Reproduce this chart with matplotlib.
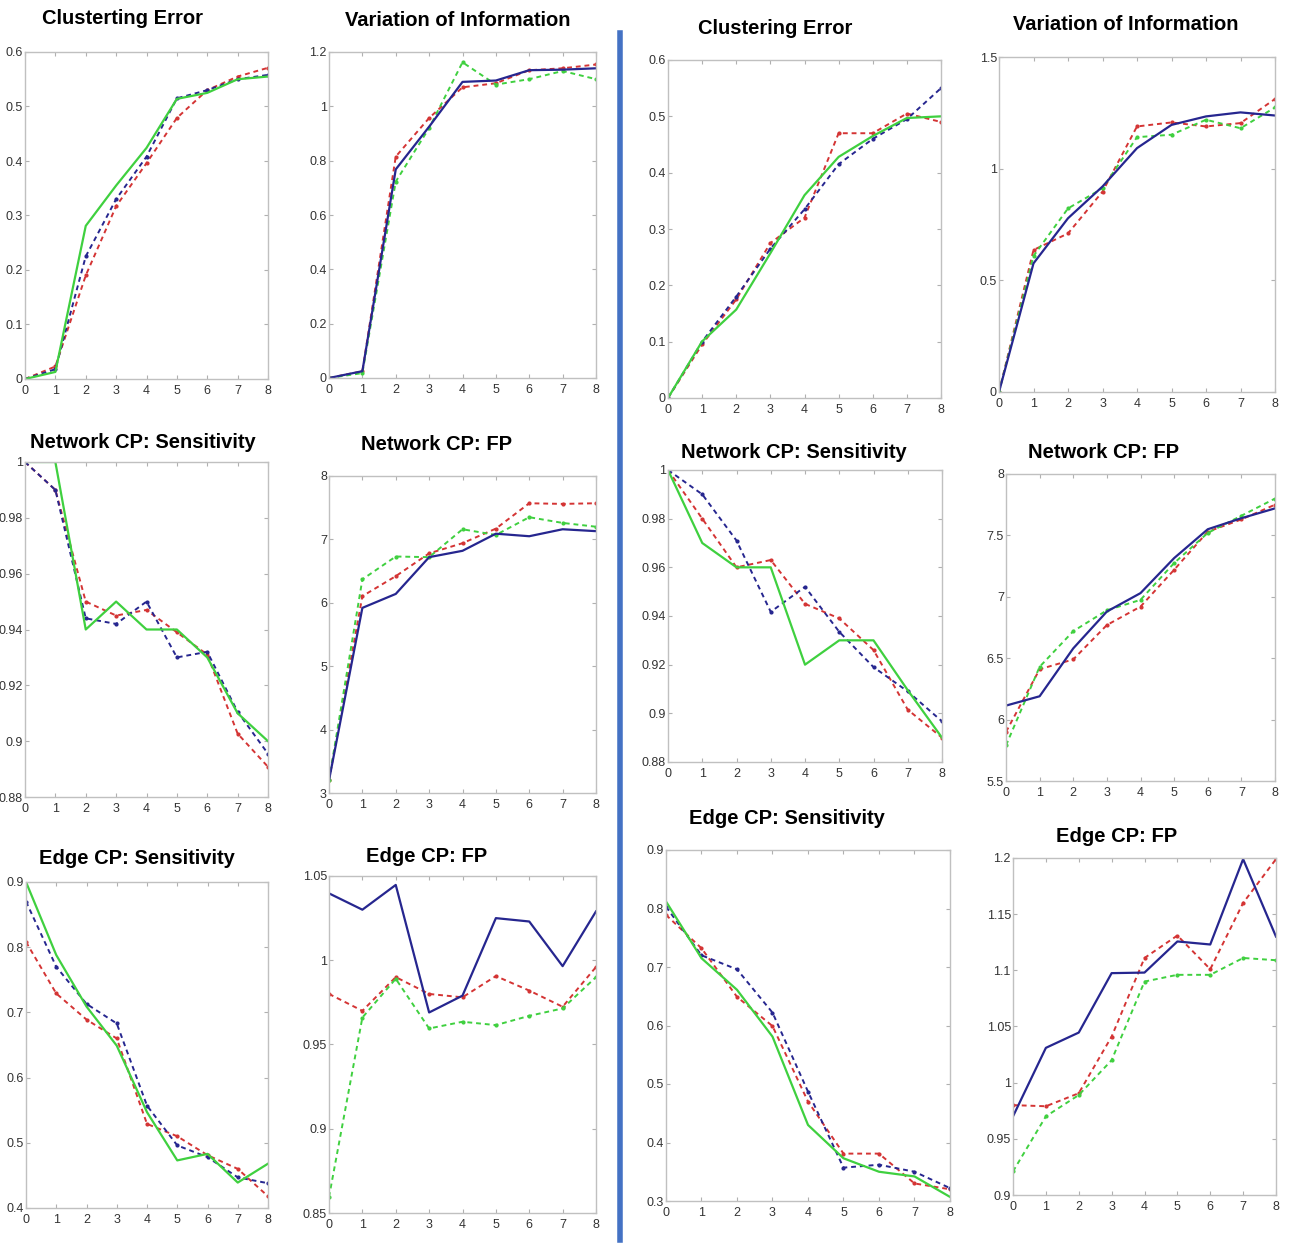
import matplotlib
matplotlib.use('Agg')
import matplotlib.pyplot as plt
from matplotlib.lines import Line2D
from matplotlib.ticker import FuncFormatter

plt.rcParams['font.family'] = ['Liberation Sans', 'DejaVu Sans']

x = list(range(9))

# left group
ce_l_green = [0, 0.013, 0.281, 0.355, 0.424, 0.514, 0.525, 0.55, 0.555]
ce_l_blue = [0, 0.018, 0.225, 0.33, 0.408, 0.515, 0.53, 0.55, 0.558]
ce_l_red = [0, 0.023, 0.19, 0.317, 0.396, 0.479, 0.53, 0.555, 0.571]

vi_l_blue = [0, 0.025, 0.768, 0.925, 1.09, 1.095, 1.133, 1.135, 1.14]
vi_l_red = [0, 0.025, 0.815, 0.957, 1.07, 1.085, 1.133, 1.14, 1.154]
vi_l_green = [0, 0.018, 0.723, 0.92, 1.162, 1.08, 1.10, 1.13, 1.10]

ns_l_green = [1.0, 1.0, 0.940, 0.950, 0.940, 0.940, 0.930, 0.910, 0.900]
ns_l_blue = [1.0, 0.990, 0.944, 0.942, 0.950, 0.930, 0.932, 0.9105, 0.8955]
ns_l_red = [1.0, 0.990, 0.950, 0.945, 0.947, 0.939, 0.931, 0.9027, 0.8908]

nf_l_blue = [3.2, 5.92, 6.14, 6.72, 6.82, 7.09, 7.05, 7.16, 7.13]
nf_l_red = [3.2, 6.105, 6.42, 6.78, 6.94, 7.17, 7.57, 7.56, 7.57]
nf_l_green = [3.2, 6.37, 6.73, 6.72, 7.16, 7.07, 7.35, 7.26, 7.2]

es_l_green = [0.9, 0.788, 0.709, 0.649, 0.547, 0.473, 0.483, 0.439, 0.468]
es_l_blue = [0.870, 0.770, 0.713, 0.683, 0.557, 0.496, 0.478, 0.447, 0.438]
es_l_red = [0.808, 0.729, 0.689, 0.660, 0.529, 0.51, 0.481, 0.46, 0.418]

ef_l_blue = [1.0397, 1.03, 1.0447, 0.969, 0.979, 1.025, 1.023, 0.9965, 1.029]
ef_l_red = [0.980, 0.970, 0.990, 0.980, 0.978, 0.9906, 0.982, 0.9724, 0.996]
ef_l_green = [0.8595, 0.966, 0.989, 0.9595, 0.9635, 0.9615, 0.967, 0.9714, 0.990]

# right group
ce_r_green = [0, 0.1005, 0.157, 0.257, 0.36, 0.428, 0.465, 0.497, 0.5]
ce_r_blue = [0, 0.1, 0.18, 0.265, 0.335, 0.415, 0.46, 0.495, 0.55]
ce_r_red = [0, 0.095, 0.175, 0.275, 0.32, 0.47, 0.47, 0.505, 0.49]

vi_r_blue = [0, 0.576, 0.778, 0.92, 1.092, 1.196, 1.234, 1.252, 1.238]
vi_r_red = [0, 0.636, 0.71, 0.897, 1.189, 1.207, 1.189, 1.204, 1.312]
vi_r_green = [0, 0.609, 0.822, 0.912, 1.141, 1.152, 1.219, 1.181, 1.274]

ns_r_green = [1.0, 0.970, 0.960, 0.960, 0.920, 0.930, 0.930, 0.9095, 0.890]
ns_r_blue = [1.0, 0.990, 0.971, 0.9417, 0.952, 0.9335, 0.919, 0.909, 0.8967]
ns_r_red = [1.0, 0.980, 0.960, 0.963, 0.945, 0.939, 0.926, 0.9015, 0.890]

nf_r_blue = [6.114, 6.19, 6.58, 6.88, 7.03, 7.315, 7.55, 7.64, 7.72]
nf_r_red = [5.90, 6.41, 6.49, 6.77, 6.92, 7.22, 7.53, 7.63, 7.75]
nf_r_green = [5.79, 6.43, 6.72, 6.89, 6.975, 7.275, 7.52, 7.66, 7.80]

es_r_green = [0.812, 0.715, 0.661, 0.581, 0.43, 0.373, 0.350, 0.342, 0.307]
es_r_blue = [0.803, 0.72, 0.696, 0.622, 0.487, 0.357, 0.362, 0.35, 0.322]
es_r_red = [0.789, 0.732, 0.649, 0.599, 0.47, 0.381, 0.381, 0.330, 0.32]

ef_r_blue = [0.970, 1.031, 1.0446, 1.0975, 1.098, 1.1257, 1.123, 1.199, 1.13]
ef_r_red = [0.980, 0.979, 0.9906, 1.041, 1.111, 1.131, 1.101, 1.16, 1.199]
ef_r_green = [0.921, 0.970, 0.989, 1.02, 1.09, 1.096, 1.096, 1.111, 1.109]

W, H = 1293, 1245
fig = plt.figure(figsize=(W / 100, H / 100), dpi=100)

GREEN = '#3fd03f'
BLUE = '#26268f'
RED = '#d43434'


def panel(box, title, tpos, ylim, yticks, green, blue, red, solid):
    l, t, r, b = box
    ax = fig.add_axes([l / W, 1 - b / H, (r - l) / W, (b - t) / H])
    dash = dict(ls=(0, (2.5, 2)), lw=1.4, marker='.', ms=4)
    line = dict(ls='-', lw=1.6)
    series = {'green': (green, GREEN), 'blue': (blue, BLUE), 'red': (red, RED)}
    for name in ['red', 'blue', 'green']:
        if name != solid:
            vals, col = series[name]
            ax.plot(x, vals, color=col, **dash)
    vals, col = series[solid]
    ax.plot(x, vals, color=col, **line)
    ax.set_xlim(0, 8)
    ax.set_ylim(*ylim)
    ax.set_xticks(x)
    ax.set_yticks(yticks)
    ax.yaxis.set_major_formatter(FuncFormatter(lambda v, p: '%g' % round(v, 3)))
    ax.tick_params(direction='in', length=3, width=0.8, color='#b0b0b0',
                   top=True, right=True, labelsize=9, pad=1.5, labelcolor='#333333')
    ax.tick_params(axis='x', pad=4)
    for s in ax.spines.values():
        s.set_color('#c0c0c0')
        s.set_linewidth(1.0)
    fig.text(tpos[0] / W, 1 - tpos[1] / H, title, ha='center', va='center',
             fontsize=14.5, fontweight='bold', color='black')
    return ax


panel((25, 52, 268, 379), 'Clusterting Error', (123, 18), (0, 0.6),
      [0, 0.1, 0.2, 0.3, 0.4, 0.5, 0.6], ce_l_green, ce_l_blue, ce_l_red, 'green')
panel((329, 52, 596, 378), 'Variation of Information', (458, 20), (0, 1.2),
      [0, 0.2, 0.4, 0.6, 0.8, 1.0, 1.2], vi_l_green, vi_l_blue, vi_l_red, 'blue')
panel((25, 462, 268, 797), 'Network CP: Sensitivity', (143, 443), (0.88, 1.0),
      [0.88, 0.9, 0.92, 0.94, 0.96, 0.98, 1.0], ns_l_green, ns_l_blue, ns_l_red, 'green')
panel((329, 476, 596, 793), 'Network CP: FP', (437, 445), (3, 8),
      [3, 4, 5, 6, 7, 8], nf_l_green, nf_l_blue, nf_l_red, 'blue')
panel((26, 882, 268, 1208), 'Edge CP: Sensitivity', (137, 858), (0.4, 0.9),
      [0.4, 0.5, 0.6, 0.7, 0.8, 0.9], es_l_green, es_l_blue, es_l_red, 'green')
panel((329, 876, 596, 1213), 'Edge CP: FP', (427, 857), (0.85, 1.05),
      [0.85, 0.9, 0.95, 1.0, 1.05], ef_l_green, ef_l_blue, ef_l_red, 'blue')

panel((668, 60, 941, 398), 'Clustering Error', (775, 28), (0, 0.6),
      [0, 0.1, 0.2, 0.3, 0.4, 0.5, 0.6], ce_r_green, ce_r_blue, ce_r_red, 'green')
panel((999, 57, 1275, 392), 'Variation of Information', (1126, 25), (0, 1.5),
      [0, 0.5, 1.0, 1.5], vi_r_green, vi_r_blue, vi_r_red, 'blue')
panel((668, 470, 942, 762), 'Network CP: Sensitivity', (794, 452), (0.88, 1.0),
      [0.88, 0.9, 0.92, 0.94, 0.96, 0.98, 1.0], ns_r_green, ns_r_blue, ns_r_red, 'green')
panel((1006, 474, 1275, 781), 'Network CP: FP', (1104, 453), (5.5, 8),
      [5.5, 6, 6.5, 7, 7.5, 8], nf_r_green, nf_r_blue, nf_r_red, 'blue')
panel((666, 850, 950, 1201), 'Edge CP: Sensitivity', (787, 818), (0.3, 0.9),
      [0.3, 0.4, 0.5, 0.6, 0.7, 0.8, 0.9], es_r_green, es_r_blue, es_r_red, 'green')
panel((1013, 858, 1276, 1195), 'Edge CP: FP', (1117, 837), (0.9, 1.2),
      [0.9, 0.95, 1.0, 1.05, 1.1, 1.15, 1.2], ef_r_green, ef_r_blue, ef_r_red, 'blue')

# blue divider between the two groups
fig.add_artist(Line2D([620 / W, 620 / W], [1 - 33 / H, 1 - 1240 / H],
                      color='#4472c4', lw=4, transform=fig.transFigure))

fig.savefig('out.png', dpi=100)
